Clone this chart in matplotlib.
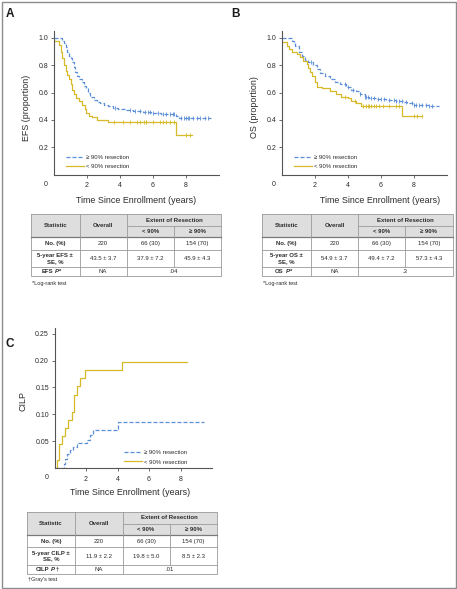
#!/usr/bin/env python3
"""EFS / OS / CILP curves by extent of resection, with summary tables."""

import matplotlib

matplotlib.use("Agg")
import matplotlib.pyplot as plt
import numpy as np
from matplotlib.patches import Rectangle

plt.rcParams["font.family"] = ["Liberation Sans", "DejaVu Sans"]

W, H = 457, 589
BLUE = "#5b8ed8"
GOLD = "#d8b92a"
AXC = "#555555"
TXT = "#2b2b2b"

# ---- curve data (time in years, value after each step) ----
efs_hi_t = [0, 0.47, 0.6, 0.7, 0.8, 0.9, 1.0, 1.1, 1.2, 1.3, 1.4, 1.5, 1.7, 1.8, 1.95,
            2.05, 2.2, 2.4, 2.6, 2.8, 3.0, 3.3, 3.6, 3.9, 4.3, 4.8, 5.4, 5.9, 6.5, 6.9,
            7.4, 7.6, 9.5]
efs_hi_s = [1.0, 0.98, 0.96, 0.93, 0.90, 0.87, 0.85, 0.82, 0.79, 0.75, 0.72, 0.70, 0.68,
            0.65, 0.63, 0.60, 0.57, 0.545, 0.53, 0.52, 0.51, 0.50, 0.49, 0.48, 0.47,
            0.465, 0.46, 0.45, 0.445, 0.44, 0.43, 0.415, 0.415]
efs_hi_cens = [3.7, 4.6, 4.9, 5.2, 5.5, 5.7, 5.8, 6.0, 6.3, 6.6, 6.8, 7.0, 7.2, 7.3, 7.7,
               7.9, 8.0, 8.1, 8.2, 8.4, 8.65, 8.85, 9.15, 9.35]

efs_lo_t = [0, 0.3, 0.4, 0.5, 0.6, 0.7, 0.8, 0.9, 1.0, 1.1, 1.2, 1.35, 1.5, 1.7, 1.85,
            1.95, 2.1, 2.3, 2.6, 3.3, 7.4, 8.35]
efs_lo_s = [0.975, 0.95, 0.90, 0.85, 0.80, 0.76, 0.73, 0.70, 0.66, 0.62, 0.59, 0.56,
            0.54, 0.51, 0.48, 0.45, 0.43, 0.42, 0.40, 0.385, 0.29, 0.29]
efs_lo_cens = [3.66, 4.16, 4.6, 5.0, 5.2, 5.45, 5.55, 5.6, 6.0, 6.4, 6.6, 6.8, 7.0, 7.3,
               8.0, 8.25]

os_hi_t = [0, 0.6, 0.7, 0.8, 1.0, 1.2, 1.4, 1.6, 1.9, 2.1, 2.3, 2.6, 2.9, 3.2, 3.5, 3.9,
           4.2, 4.5, 4.7, 5.0, 5.3, 5.7, 6.3, 6.9, 7.4, 7.6, 8.0, 8.9, 9.5]
os_hi_s = [1.0, 0.98, 0.96, 0.94, 0.90, 0.87, 0.84, 0.82, 0.80, 0.77, 0.74, 0.72, 0.70,
           0.68, 0.66, 0.64, 0.62, 0.61, 0.59, 0.57, 0.56, 0.55, 0.545, 0.535, 0.53,
           0.52, 0.51, 0.50, 0.50]
os_hi_cens = [1.78, 3.8, 4.0, 4.3, 4.7, 5.0, 5.1, 5.2, 5.4, 5.6, 5.8, 6.0, 6.2, 6.5, 6.8,
              6.9, 7.1, 7.3, 7.5, 7.9, 8.0, 8.1, 8.3, 8.5, 8.7, 8.9, 9.1]

os_lo_t = [0, 0.3, 0.4, 0.6, 0.9, 1.1, 1.3, 1.5, 1.6, 1.7, 1.8, 2.0, 2.1, 2.4, 2.9, 3.3,
           3.6, 4.0, 4.2, 4.5, 4.8, 7.26, 8.5]
os_lo_s = [0.97, 0.94, 0.92, 0.90, 0.88, 0.86, 0.83, 0.81, 0.78, 0.75, 0.72, 0.68, 0.64,
           0.63, 0.61, 0.59, 0.57, 0.56, 0.54, 0.52, 0.50, 0.43, 0.43]
os_lo_cens = [3.8, 4.4, 4.9, 5.1, 5.2, 5.3, 5.4, 5.6, 5.7, 5.9, 6.1, 6.5, 6.9, 7.1, 8.0,
              8.2, 8.5]

cilp_hi_t = [0, 0.52, 0.6, 0.68, 0.77, 0.98, 1.2, 1.41, 2.04, 2.25, 2.42, 4.05, 9.5]
cilp_hi_s = [0, 0.0, 0.008, 0.016, 0.026, 0.034, 0.040, 0.046, 0.052, 0.061, 0.071,
             0.085, 0.085]
cilp_lo_t = [0, 0.14, 0.31, 0.46, 0.67, 0.88, 1.09, 1.24, 1.41, 1.62, 1.94, 4.31, 8.39]
cilp_lo_s = [0, 0.015, 0.045, 0.06, 0.075, 0.09, 0.105, 0.136, 0.152, 0.167, 0.182,
             0.197, 0.197]

label_hi = "\u2265 90% resection"
label_lo = "< 90% resection"

# ---- table data ----
col_overall = "Overall"
col_extent = "Extent of Resection"
col_groups = ["< 90%", "\u2265 90%"]
no_row = ["No. (%)", "220", "66 (30)", "154 (70)"]
efs_row = ["5-year EFS \u00b1\nSE, %", "43.5 \u00b1 3.7", "37.9 \u00b1 7.2", "45.9 \u00b1 4.3"]
os_row = ["5-year OS \u00b1\nSE, %", "54.9 \u00b1 3.7", "49.4 \u00b1 7.2", "57.3 \u00b1 4.3"]
cilp_row = ["5-year CILP \u00b1\nSE, %", "11.9 \u00b1 2.2", "19.8 \u00b1 5.0", "8.5 \u00b1 2.3"]
efs_p = ("EFS", "*", "NA", ".04")
os_p = ("OS", "*", "NA", ".3")
cilp_p = ("CILP", "\u2020", "NA", ".01")
note_logrank = "*Log-rank test"
note_gray = "\u2020Gray's test"


def px_axes(fig, left, top, right, bottom):
    return fig.add_axes([left / W, 1 - bottom / H, (right - left) / W, (bottom - top) / H])


def step_at(t, s, x):
    t = np.asarray(t)
    s = np.asarray(s)
    idx = np.searchsorted(t, x, side="right") - 1
    return s[np.clip(idx, 0, len(s) - 1)]


def style_axes(ax, ymax, yticks, yfmt):
    ax.set_xlim(0, 10)
    ax.set_ylim(0, ymax)
    for side in ("top", "right"):
        ax.spines[side].set_visible(False)
    for side in ("left", "bottom"):
        ax.spines[side].set_color(AXC)
        ax.spines[side].set_linewidth(0.8)
    ax.set_xticks([2, 4, 6, 8])
    ax.set_yticks(yticks)
    ax.set_yticklabels([yfmt.format(v) for v in yticks])
    ax.tick_params(direction="out", length=2.5, width=0.6, color=AXC,
                   labelsize=5, labelcolor=TXT, pad=1.5)
    ax.tick_params(axis="x", pad=3)
    ax.annotate("0", xy=(0, 0), xycoords="axes fraction", xytext=(-5.8, -7),
                textcoords="offset points", ha="center", va="center",
                fontsize=5, color=TXT)


def curve(ax, t, s, color, dashed, label, cens=None):
    ls = (0, (3.2, 1.6)) if dashed else "-"
    line, = ax.step(t, s, where="post", color=color, lw=0.9, ls=ls, label=label)
    if cens is not None:
        ax.plot(cens, step_at(t, s, cens), ls="none", marker="|", ms=3.2, mew=0.6,
                color=color)
    return line


def legend(ax, x, y):
    ax.legend(loc="lower left", bbox_to_anchor=(x, y), frameon=False, fontsize=4.3,
              handlelength=3.0, handletextpad=0.4, labelspacing=0.75, borderpad=0,
              borderaxespad=0, labelcolor=TXT)


def draw_table(ax, x0, y0, row_a, row_b, p_row):
    widths = [48.5, 47.3, 47.0, 47.4]
    heights = [12.0, 11.0, 12.7, 17.3, 9.3]
    xs = np.concatenate([[x0], x0 + np.cumsum(widths)])
    ys = np.concatenate([[y0], y0 + np.cumsum(heights)])
    grid = dict(color="#9a9a9a", lw=0.6)
    ax.add_patch(Rectangle((xs[0], ys[0]), xs[-1] - xs[0], ys[2] - ys[0],
                           facecolor="#dedede", edgecolor="none"))
    # outer frame and lines
    ax.plot([xs[0], xs[-1], xs[-1], xs[0], xs[0]], [ys[0], ys[0], ys[-1], ys[-1], ys[0]], **grid)
    ax.plot([xs[2], xs[-1]], [ys[1], ys[1]], **grid)
    for yy in ys[3:-1]:
        ax.plot([xs[0], xs[-1]], [yy, yy], **grid)
    ax.plot([xs[0], xs[-1]], [ys[2], ys[2]], color="#7a7a7a", lw=0.9)
    for xx in xs[1:3]:
        ax.plot([xx, xx], [ys[0], ys[-1]], **grid)
    ax.plot([xs[3], xs[3]], [ys[1], ys[-2]], **grid)

    fs = 4.3
    cx = (xs[:-1] + xs[1:]) / 2
    hdr = dict(ha="center", va="center", fontsize=fs, weight="bold", color=TXT)
    body = dict(ha="center", va="center", fontsize=fs, color=TXT)
    ax.text(cx[0], (ys[0] + ys[2]) / 2, "Statistic", **hdr)
    ax.text(cx[1], (ys[0] + ys[2]) / 2, col_overall, **hdr)
    ax.text((xs[2] + xs[4]) / 2, (ys[0] + ys[1]) / 2, col_extent, **hdr)
    for i, g in enumerate(col_groups):
        ax.text(cx[2 + i], (ys[1] + ys[2]) / 2, g, **hdr)
    for r, row in enumerate([row_a, row_b]):
        ym = (ys[2 + r] + ys[3 + r]) / 2
        ax.text(cx[0], ym, row[0], linespacing=1.15, **hdr)
        for c in range(1, 4):
            ax.text(cx[c], ym, row[c], **body)
    ym = (ys[4] + ys[5]) / 2
    name, mark, overall, pval = p_row
    mid = ax.text(cx[0] + 0.08 * len(name) * 6, ym, "P", style="italic", **hdr)
    ax.annotate(name, xy=(0, 0.5), xycoords=mid, xytext=(-1.3, 0),
                textcoords="offset points", ha="right", va="center",
                fontsize=fs, weight="bold", color=TXT)
    ax.annotate(mark, xy=(1, 0.5), xycoords=mid, xytext=(0.2, 0),
                textcoords="offset points", ha="left", va="center",
                fontsize=fs, weight="bold", color=TXT)
    ax.text(cx[1], ym, overall, **body)
    ax.text((xs[2] + xs[4]) / 2, ym, pval, **body)


fig = plt.figure(figsize=(W / 100, H / 100), dpi=100)

# background / annotation layer in pixel coordinates
bg = fig.add_axes([0, 0, 1, 1])
bg.set_xlim(0, W)
bg.set_ylim(H, 0)
bg.axis("off")
bg.add_patch(Rectangle((1.5, 1.5), W - 3, H - 3, facecolor="none", edgecolor="#8c8c8c",
                       lw=1.0))
for letter, (lx, ly) in zip("ABC", [(10, 14), (236, 14), (10, 344)]):
    bg.text(lx, ly, letter, ha="center", va="center", fontsize=8.5, weight="bold",
            color="#1a1a1a")

# Panel A
axA = px_axes(fig, 54, 31, 219, 174.5)
style_axes(axA, 1.05, [0.2, 0.4, 0.6, 0.8, 1.0], "{:.1f}")
curve(axA, efs_hi_t, efs_hi_s, BLUE, True, label_hi, efs_hi_cens)
curve(axA, efs_lo_t, efs_lo_s, GOLD, False, label_lo, efs_lo_cens)
legend(axA, 0.073, 0.035)
axA.text(0.5, -0.178, "Time Since Enrollment (years)", transform=axA.transAxes,
         ha="center", va="center", fontsize=6.4, color=TXT)
axA.text(-0.164, 0.467, "EFS (proportion)", transform=axA.transAxes, rotation=90,
         ha="center", va="center", fontsize=6.4, color=TXT)

# Panel B
axB = px_axes(fig, 282, 31, 447, 174.5)
style_axes(axB, 1.05, [0.2, 0.4, 0.6, 0.8, 1.0], "{:.1f}")
curve(axB, os_hi_t, os_hi_s, BLUE, True, label_hi, os_hi_cens)
curve(axB, os_lo_t, os_lo_s, GOLD, False, label_lo, os_lo_cens)
legend(axB, 0.073, 0.035)
axB.text(0.594, -0.178, "Time Since Enrollment (years)", transform=axB.transAxes,
         ha="center", va="center", fontsize=6.4, color=TXT)
axB.text(-0.165, 0.467, "OS (proportion)", transform=axB.transAxes, rotation=90,
         ha="center", va="center", fontsize=6.4, color=TXT)

# Panel C
axC = px_axes(fig, 54.5, 328.4, 212, 468)
style_axes(axC, 0.26, [0.05, 0.10, 0.15, 0.20, 0.25], "{:.2f}")
curve(axC, cilp_hi_t, cilp_hi_s, BLUE, True, label_hi)
curve(axC, cilp_lo_t, cilp_lo_s, GOLD, False, label_lo)
legend(axC, 0.44, 0.025)
axC.text(0.48, -0.179, "Time Since Enrollment (years)", transform=axC.transAxes,
         ha="center", va="center", fontsize=6.4, color=TXT)
axC.text(-0.2, 0.48, "CILP", transform=axC.transAxes, rotation=90,
         ha="center", va="center", fontsize=6.4, color=TXT)

# Tables
draw_table(bg, 31, 214, no_row, efs_row, efs_p)
draw_table(bg, 262.3, 214, no_row, os_row, os_p)
draw_table(bg, 26.7, 511.7, no_row, cilp_row, cilp_p)
bg.text(32, 283, note_logrank, ha="left", va="center", fontsize=4.0, color=TXT)
bg.text(263, 283, note_logrank, ha="left", va="center", fontsize=4.0, color=TXT)
bg.text(28, 580, note_gray, ha="left", va="center", fontsize=4.0, color=TXT)

fig.savefig("out.png", dpi=100)
